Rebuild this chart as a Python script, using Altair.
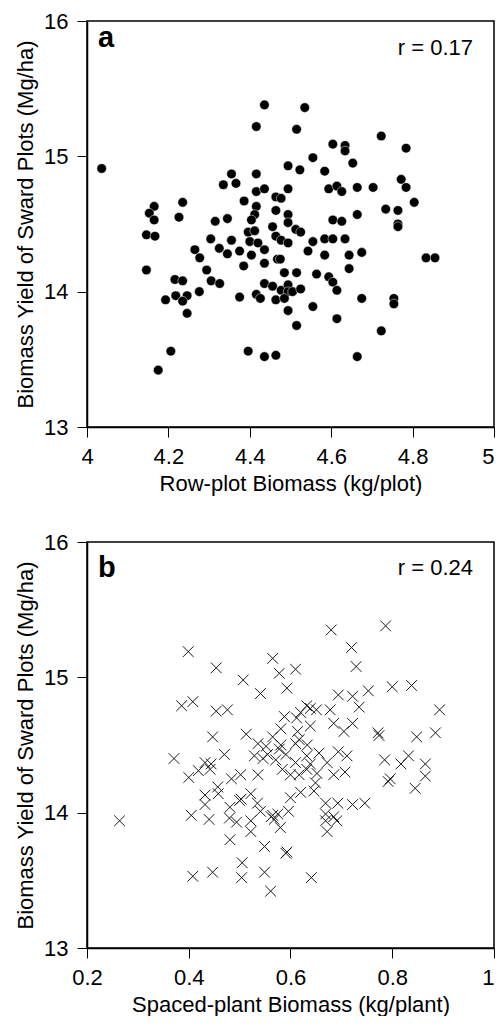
import altair as alt
import pandas as pd

FONT = "Liberation Sans"

# Panel a: Row-plot biomass (kg/plot) vs sward biomass yield (Mg/ha)
row_x = [4.436, 4.416, 4.036, 4.355, 4.416, 4.335, 4.366, 4.416, 4.436, 4.464,
         4.386, 4.235, 4.165, 4.153, 4.165, 4.226, 4.416, 4.412, 4.464, 4.315,
         4.345, 4.404, 4.535, 4.515, 4.723, 4.604, 4.634, 4.634, 4.784, 4.555,
         4.653, 4.494, 4.523, 4.584, 4.772, 4.784, 4.594, 4.614, 4.626, 4.664,
         4.703, 4.494, 4.477, 4.804, 4.734, 4.764, 4.494, 4.664, 4.604, 4.626,
         4.764, 4.146, 4.167, 4.304, 4.355, 4.265, 4.325, 4.345, 4.375, 4.277,
         4.396, 4.412, 4.400, 4.420, 4.436, 4.404, 4.436, 4.456, 4.464, 4.468,
         4.146, 4.294, 4.305, 4.326, 4.385, 4.216, 4.235, 4.193, 4.218, 4.246,
         4.235, 4.276, 4.246, 4.375, 4.416, 4.426, 4.436, 4.456, 4.464, 4.206,
         4.175, 4.396, 4.436, 4.464, 4.494, 4.513, 4.525, 4.477, 4.494, 4.555,
         4.584, 4.604, 4.634, 4.543, 4.584, 4.644, 4.675, 4.644, 4.764, 4.833,
         4.855, 4.475, 4.485, 4.515, 4.564, 4.594, 4.604, 4.614, 4.477, 4.494,
         4.494, 4.505, 4.525, 4.485, 4.494, 4.555, 4.515, 4.614, 4.675, 4.754,
         4.754, 4.723, 4.664]
row_y = [15.38, 15.22, 14.91, 14.87, 14.87, 14.79, 14.80, 14.74, 14.76, 14.70,
         14.67, 14.66, 14.63, 14.58, 14.53, 14.55, 14.63, 14.57, 14.60, 14.52,
         14.54, 14.53, 15.36, 15.20, 15.15, 15.09, 15.08, 15.04, 15.06, 14.99,
         14.95, 14.93, 14.90, 14.89, 14.83, 14.77, 14.76, 14.78, 14.74, 14.77,
         14.77, 14.76, 14.69, 14.66, 14.61, 14.60, 14.57, 14.57, 14.53, 14.52,
         14.50, 14.42, 14.41, 14.39, 14.38, 14.31, 14.32, 14.28, 14.30, 14.25,
         14.44, 14.45, 14.37, 14.36, 14.31, 14.27, 14.21, 14.48, 14.41, 14.24,
         14.16, 14.16, 14.08, 14.06, 14.19, 14.09, 14.08, 13.94, 13.97, 13.97,
         13.93, 14.00, 13.84, 13.96, 13.98, 13.95, 14.06, 14.04, 13.94, 13.56,
         13.42, 13.56, 13.52, 13.53, 14.51, 14.46, 14.44, 14.38, 14.36, 14.37,
         14.39, 14.39, 14.39, 14.30, 14.27, 14.27, 14.29, 14.17, 14.48, 14.25,
         14.25, 14.24, 14.14, 14.14, 14.13, 14.11, 14.07, 14.01, 14.01, 14.05,
         14.00, 14.00, 14.02, 13.95, 13.86, 13.89, 13.75, 13.80, 13.95, 13.95,
         13.91, 13.71, 13.52]

# Panel b: Spaced-plant biomass (kg/plant) vs sward biomass yield (Mg/ha)
sp_x = [0.399, 0.454, 0.507, 0.565, 0.578, 0.541, 0.386, 0.408, 0.454, 0.476,
        0.447, 0.513, 0.536, 0.565, 0.680, 0.787, 0.720, 0.729, 0.610, 0.593,
        0.694, 0.722, 0.753, 0.800, 0.838, 0.893, 0.735, 0.678, 0.632, 0.651,
        0.639, 0.620, 0.588, 0.612, 0.685, 0.722, 0.705, 0.639, 0.581, 0.614,
        0.772, 0.774, 0.848, 0.885, 0.264, 0.371, 0.400, 0.419, 0.432, 0.444,
        0.442, 0.470, 0.552, 0.529, 0.546, 0.555, 0.571, 0.484, 0.502, 0.536,
        0.457, 0.458, 0.432, 0.432, 0.500, 0.503, 0.522, 0.535, 0.481, 0.541,
        0.405, 0.440, 0.480, 0.494, 0.522, 0.522, 0.562, 0.568, 0.481, 0.549,
        0.505, 0.504, 0.408, 0.447, 0.549, 0.561, 0.581, 0.610, 0.617, 0.633,
        0.578, 0.591, 0.610, 0.632, 0.639, 0.656, 0.672, 0.694, 0.711, 0.584,
        0.600, 0.617, 0.632, 0.652, 0.685, 0.707, 0.649, 0.646, 0.620, 0.600,
        0.785, 0.817, 0.832, 0.865, 0.796, 0.792, 0.865, 0.845, 0.669, 0.693,
        0.722, 0.746, 0.669, 0.685, 0.691, 0.669, 0.672, 0.596, 0.565, 0.575,
        0.580, 0.591, 0.593, 0.641]
sp_y = [15.19, 15.07, 14.98, 15.14, 15.03, 14.88, 14.79, 14.82, 14.75, 14.76,
        14.56, 14.58, 14.51, 14.56, 15.35, 15.38, 15.22, 15.08, 15.06, 14.92,
        14.87, 14.86, 14.90, 14.93, 14.94, 14.76, 14.78, 14.76, 14.79, 14.76,
        14.77, 14.74, 14.71, 14.70, 14.66, 14.66, 14.60, 14.64, 14.62, 14.60,
        14.59, 14.57, 14.56, 14.59, 13.94, 14.40, 14.26, 14.31, 14.37, 14.36,
        14.32, 14.43, 14.49, 14.42, 14.40, 14.43, 14.39, 14.25, 14.28, 14.28,
        14.19, 14.14, 14.13, 14.06, 14.09, 14.10, 14.14, 14.07, 14.04, 14.01,
        13.98, 13.95, 13.96, 13.93, 13.94, 13.86, 13.97, 13.95, 13.80, 13.75,
        13.63, 13.52, 13.53, 13.56, 13.56, 13.42, 14.50, 14.51, 14.54, 14.50,
        14.47, 14.43, 14.37, 14.42, 14.36, 14.44, 14.37, 14.45, 14.42, 14.32,
        14.28, 14.28, 14.32, 14.29, 14.28, 14.30, 14.22, 14.16, 14.15, 14.11,
        14.39, 14.36, 14.42, 14.36, 14.25, 14.23, 14.27, 14.18, 14.07, 14.07,
        14.06, 14.07, 13.99, 13.97, 13.94, 13.94, 13.86, 14.01, 13.98, 13.99,
        13.89, 13.70, 13.71, 13.52]

y_ticks = [13, 14, 15, 16]
x_ticks_a = [4, 4.2, 4.4, 4.6, 4.8, 5]
x_ticks_b = [0.2, 0.4, 0.6, 0.8, 1]
y_title = "Biomass Yield of Sward Plots (Mg/ha)"

W, H = 407, 406


def axis(values, title, title_pad, last=None):
    kw = {}
    if last is not None:
        kw["labelAlign"] = {"condition": {"test": f"datum.value >= {last}",
                                          "value": "right"},
                            "value": "center"}
    return alt.Axis(values=values, format="~g", title=title, grid=False,
                    tickSize=10, tickColor="black", tickWidth=1,
                    domainColor="black", domainWidth=1.5,
                    labelFont=FONT, titleFont=FONT, labelFontSize=22,
                    titleFontSize=22, labelColor="black", titleColor="black",
                    titleFontWeight="normal", labelPadding=9,
                    titlePadding=title_pad, labelFlush=False, **kw)


def panel(xs, ys, xdom, xticks, xtitle, filled, letter, rtext, letter_y, r_y):
    df = pd.DataFrame({"x": xs, "y": ys})
    x_enc = alt.X("x:Q", scale=alt.Scale(domain=xdom, zero=False, nice=False),
                  axis=axis(xticks, xtitle, 6, last=xdom[1]))
    y_enc = alt.Y("y:Q", scale=alt.Scale(domain=[13, 16], zero=False, nice=False),
                  axis=axis(y_ticks, y_title, 6))
    if filled:
        pts = alt.Chart(df).mark_point(shape="circle", filled=True, size=92,
                                       color="black", opacity=1,
                                       stroke="white", strokeWidth=0.5)
    else:
        pts = alt.Chart(df).mark_point(shape="M-1,-1L1,1M-1,1L1,-1", filled=False,
                                       size=115, color="#1a1a1a", opacity=1,
                                       strokeWidth=1)
    pts = pts.encode(x=x_enc, y=y_enc)
    lab = alt.Chart(pd.DataFrame({"t": [letter]})).mark_text(
        align="left", baseline="alphabetic", font=FONT, fontSize=29,
        fontWeight="bold", color="black").encode(
        x=alt.value(11), y=alt.value(letter_y), text="t:N")
    rt = alt.Chart(pd.DataFrame({"t": [rtext]})).mark_text(
        align="right", baseline="alphabetic", font=FONT, fontSize=22,
        color="black").encode(
        x=alt.value(W - 21), y=alt.value(r_y), text="t:N")
    return alt.layer(pts, lab, rt).properties(width=W, height=H)


top = panel(row_x, row_y, [4, 5], x_ticks_a, "Row-plot Biomass (kg/plot)",
            True, "a", "r = 0.17", 26, 34)
bottom = panel(sp_x, sp_y, [0.2, 1], x_ticks_b, "Spaced-plant Biomass (kg/plant)",
               False, "b", "r = 0.24", 35, 33)

chart = alt.vconcat(top, bottom, spacing=35).configure_view(
    stroke="black", strokeWidth=1.5).properties(
    padding={"left": 5, "top": 1, "right": 0, "bottom": 0})

chart.save("out.html", embed_options={"renderer": "svg", "actions": False})
